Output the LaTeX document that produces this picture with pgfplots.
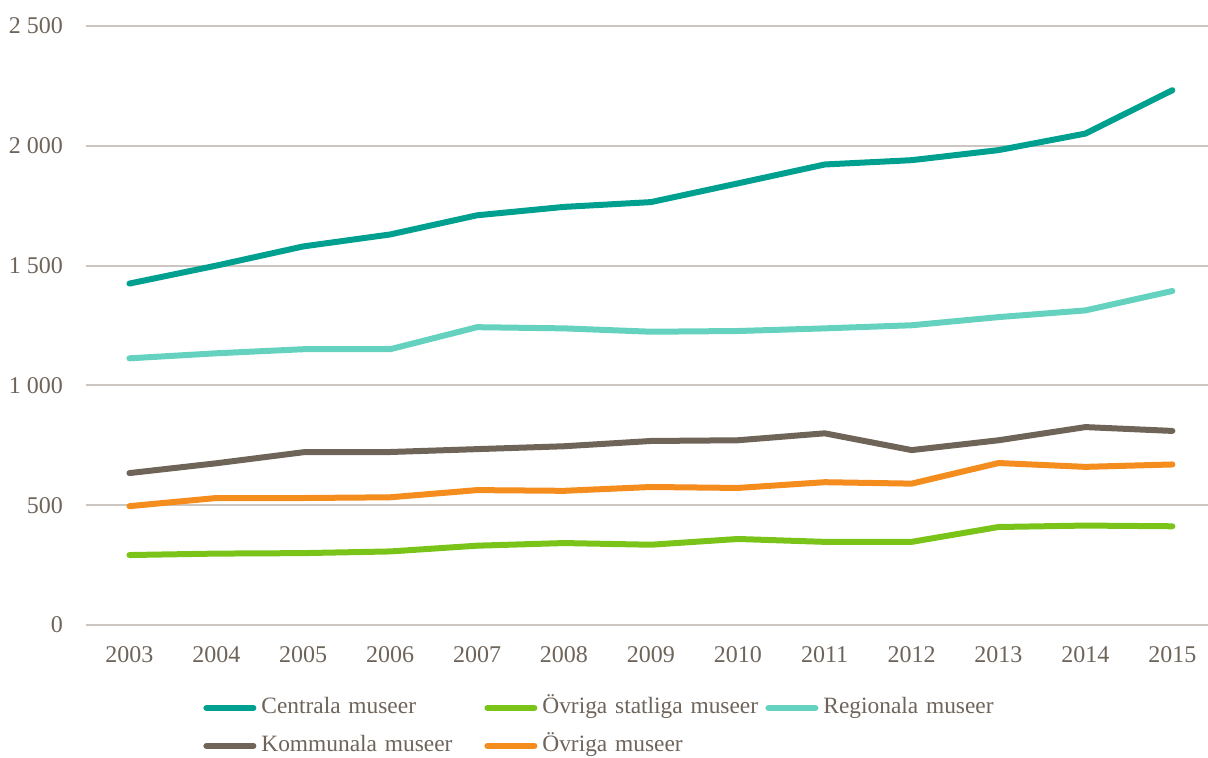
\documentclass[border=0pt]{standalone}
\usepackage{pgfplots}
\pgfplotsset{compat=1.18}
\usepackage{fontspec}
\setmainfont{Liberation Serif}
\definecolor{Centrala}{RGB}{0,160,145}
\definecolor{Statliga}{RGB}{122,196,26}
\definecolor{Regionala}{RGB}{100,210,190}
\definecolor{Kommunala}{RGB}{110,100,88}
\definecolor{Ovriga}{RGB}{245,140,30}
\definecolor{txt}{RGB}{110,100,90}
\definecolor{gridc}{RGB}{205,198,192}

\begin{document}
\begin{tikzpicture}
\begin{axis}[
  name=ax,
  scale only axis,
  width=561bp, height=299.5bp,
  xmin=2002.5, xmax=2015.41,
  ymin=0, ymax=2500,
  xtick={2003,2004,...,2015},
  ytick={0,500,...,2500},
  ymajorgrids,
  grid style={color=gridc, line width=1bp},
  axis line style={draw=none},
  major tick length=0pt,
  /pgf/number format/assume math mode=true,
  tick label style={font=\fontsize{12bp}{14bp}\selectfont, text=txt},
  xticklabel style={/pgf/number format/1000 sep={}, yshift=-7bp},
  yticklabel style={/pgf/number format/1000 sep={\ }, xshift=-8bp},
  every axis plot/.append style={line width=3bp, line join=round, line cap=round},
  legend image code/.code={
    \draw[#1, line cap=round] (1.5bp,0bp) -- (25bp,0bp);
    \path (0bp,0bp) (27.5bp,0bp);
  },
  legend columns=3,
  legend cell align=left,
  legend style={
    draw=none, fill=none, inner sep=0pt,
    at={(axis description cs:0,0)}, anchor=north west,
    xshift=57bp, yshift=-36bp,
    column sep=0pt, row sep=8.5bp,
    font=\fontsize{11.7bp}{14bp}\selectfont, text=txt,
    nodes={inner sep=0pt, text width=110bp, align=left, text height=8bp, text depth=2.5bp},
  },
]
\addplot[color=Centrala] coordinates {
  (2003,1425) (2004,1500) (2005,1580) (2006,1630) (2007,1710) (2008,1745)
  (2009,1765) (2010,1843) (2011,1922) (2012,1940) (2013,1982) (2014,2051) (2015,2232)};
\addlegendentry{Centrala museer}
\addplot[color=Statliga] coordinates {
  (2003,292) (2004,298) (2005,300) (2006,307) (2007,331) (2008,342)
  (2009,335) (2010,359) (2011,347) (2012,347) (2013,409) (2014,415) (2015,412)};
\addlegendentry{\mbox{Övriga statliga museer}}
\addplot[color=Regionala] coordinates {
  (2003,1113) (2004,1134) (2005,1151) (2006,1151) (2007,1243) (2008,1238)
  (2009,1224) (2010,1227) (2011,1238) (2012,1251) (2013,1285) (2014,1313) (2015,1394)};
\addlegendentry{Regionala museer}
\addplot[color=Kommunala] coordinates {
  (2003,634) (2004,675) (2005,721) (2006,722) (2007,734) (2008,746)
  (2009,768) (2010,771) (2011,800) (2012,730) (2013,771) (2014,826) (2015,810)};
\addlegendentry{Kommunala museer}
\addplot[color=Ovriga] coordinates {
  (2003,496) (2004,530) (2005,530) (2006,533) (2007,563) (2008,560)
  (2009,576) (2010,572) (2011,596) (2012,590) (2013,676) (2014,660) (2015,670)};
\addlegendentry{Övriga museer}
\end{axis}
\pgfresetboundingbox
\path ([xshift=-43bp,yshift=-66.5bp]ax.south west) rectangle ([yshift=13bp]ax.north east);
\end{tikzpicture}
\end{document}
